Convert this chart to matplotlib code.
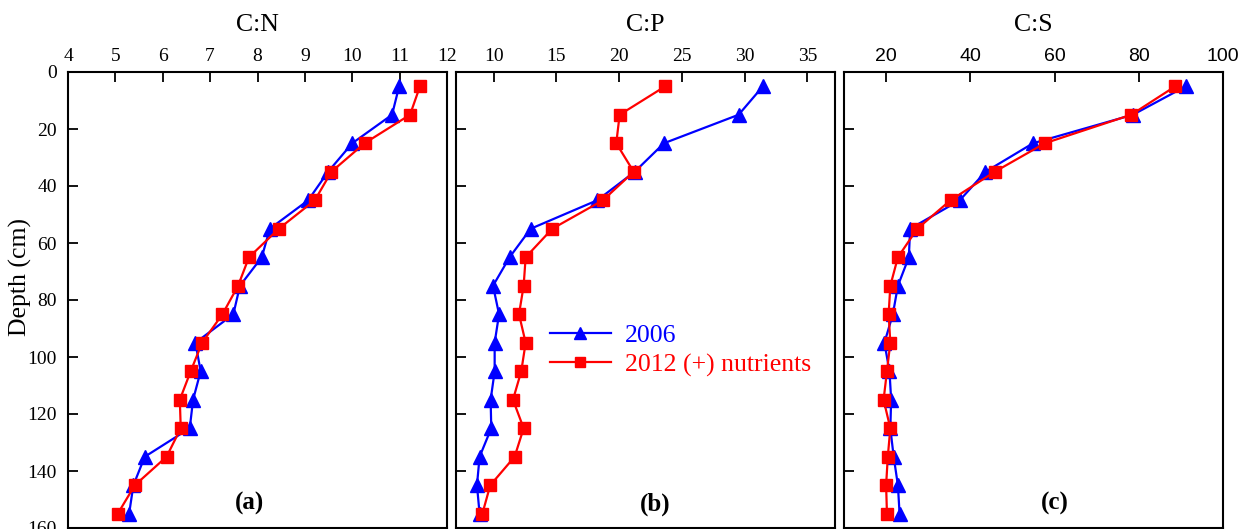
import matplotlib
matplotlib.use('Agg')
import matplotlib.pyplot as plt

plt.rcParams['font.family'] = 'Liberation Serif'

depth = [5, 15, 25, 35, 45, 55, 65, 75, 85, 95, 105, 115, 125, 135, 145, 155]

cn_2006 = [10.99, 10.84, 10.0, 9.49, 9.07, 8.26, 8.09, 7.63, 7.49, 6.69, 6.80, 6.64, 6.57, 5.62, 5.38, 5.29]
cn_2012 = [11.43, 11.22, 10.26, 9.56, 9.21, 8.45, 7.82, 7.59, 7.26, 6.83, 6.59, 6.36, 6.38, 6.08, 5.41, 5.05]

cp_2006 = [31.46, 29.52, 23.57, 21.24, 18.26, 12.95, 11.27, 9.95, 10.43, 10.08, 10.08, 9.76, 9.81, 8.88, 8.67, 8.88]
cp_2012 = [23.68, 20.04, 19.77, 21.16, 18.71, 14.67, 12.55, 12.39, 12.02, 12.55, 12.2, 11.54, 12.39, 11.67, 9.73, 9.1]

cs_2006 = [91.2, 78.6, 54.9, 43.6, 37.5, 25.7, 25.4, 22.8, 21.6, 19.6, 20.8, 21.2, 21.0, 21.8, 22.8, 23.2]
cs_2012 = [88.7, 78.2, 57.7, 45.8, 35.3, 27.4, 22.8, 21.0, 20.6, 21.0, 20.2, 19.4, 21.0, 20.4, 20.0, 20.2]

titles = ['C:N', 'C:P', 'C:S']
tags = ['(a)', '(b)', '(c)']
xlims = [(4, 12), (7, 37.2), (10, 100)]
xticks = [list(range(4, 13)), [10, 15, 20, 25, 30, 35], [20, 40, 60, 80, 100]]
tag_x = [0.48, 0.525, 0.556]

fig = plt.figure(figsize=(12.39, 5.29), dpi=100)
W, H = 1239, 529
lefts = [68, 456, 844]
ax_w = 379
bottom = 1
top = 72

series = [(cn_2006, cn_2012), (cp_2006, cp_2012), (cs_2006, cs_2012)]

axes = []
for k in range(3):
    ax = fig.add_axes([lefts[k] / W, bottom / H, ax_w / W, (H - top - bottom) / H])
    axes.append(ax)
    b, r = series[k]
    ax.plot(b, depth, color='#0000ff', marker='^', ms=10, lw=1.6, label='2006')
    ax.plot(r, depth, color='#ff0000', marker='s', ms=8.5, lw=1.6, label='2012 (+) nutrients')
    ax.set_xlim(*xlims[k])
    ax.set_ylim(160, 0)
    ax.set_xticks(xticks[k])
    ax.set_yticks(range(0, 161, 20))
    ax.xaxis.tick_top()
    ax.tick_params(axis='both', direction='in', length=7, width=1.3,
                   labelsize=14, pad=5)
    ax.tick_params(axis='y', pad=8)
    if k > 0:
        ax.set_yticklabels([])
    for sp in ax.spines.values():
        sp.set_linewidth(1.5)
    if k == 2:
        for lab in ax.get_xticklabels():
            lab.set_fontfamily('Liberation Sans')
    ax.text(0.5, 1.103, titles[k], transform=ax.transAxes, ha='center',
            va='center', fontsize=18.5)
    ax.text(tag_x[k], 0.053, tags[k], transform=ax.transAxes, ha='center',
            va='center', fontsize=18, fontweight='bold')

axes[1].legend(loc='center left', bbox_to_anchor=(0.248, 0.39), frameon=False,
               fontsize=18.5, handlelength=2.37, handletextpad=0.55,
               labelspacing=0.25, borderpad=0, borderaxespad=0,
               markerscale=0.85, labelcolor='linecolor')

fig.text(20 / W, 1 - 277 / H, 'Depth (cm)', rotation=90, ha='center',
         va='center', fontsize=18.5)

plt.savefig('out.png', dpi=100)
